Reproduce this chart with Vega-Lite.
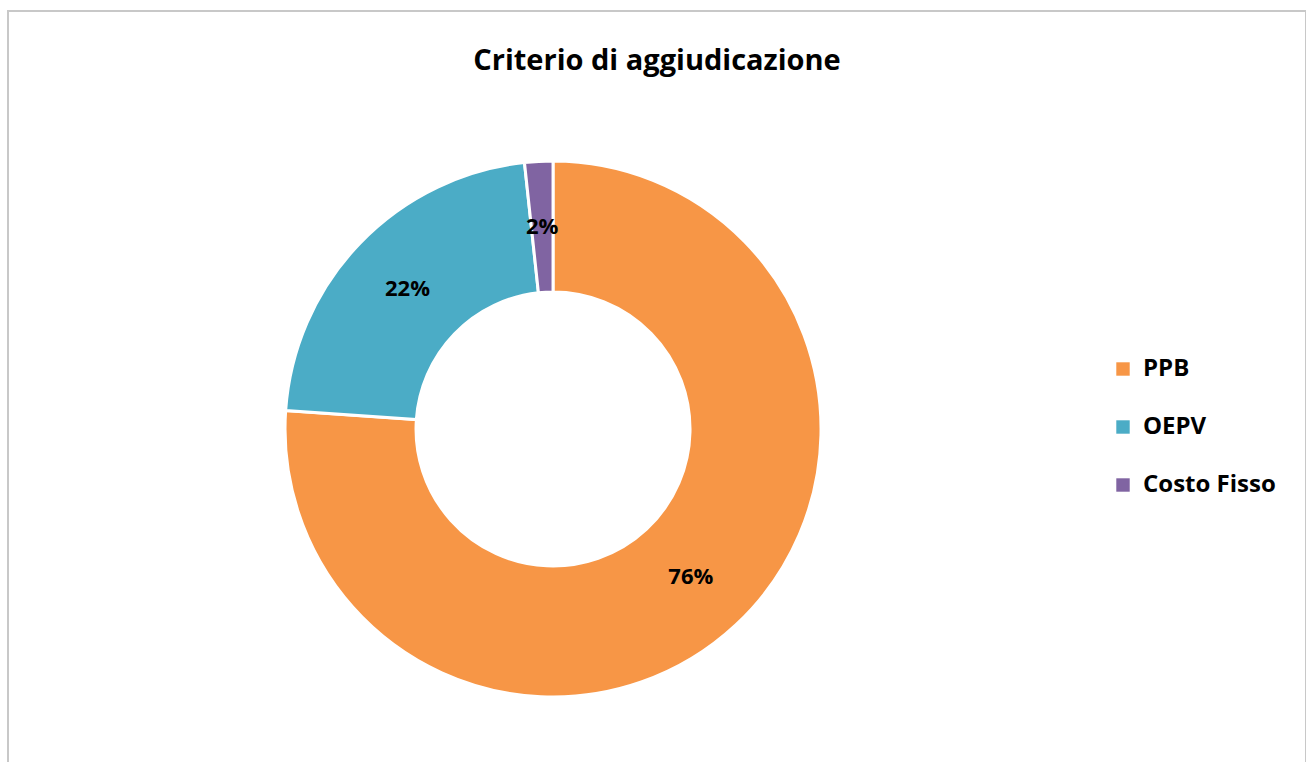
{
  "$schema": "https://vega.github.io/schema/vega-lite/v6.json",
  "width": 1298,
  "height": 800,
  "padding": {"left": 8, "top": 11, "right": 0, "bottom": 0},
  "autosize": {"type": "none"},
  "background": "white",
  "config": {
    "view": {"stroke": "#c8c8c8", "strokeWidth": 2},
    "font": "Open Sans"
  },
  "title": {
    "text": "Criterio di aggiudicazione",
    "fontSize": 29,
    "font": "Open Sans",
    "fontWeight": "bold",
    "color": "#000000",
    "anchor": "middle",
    "offset": -65
  },
  "data": {
    "values": [
      {"criterio": "PPB", "value": 76.1, "ord": 1, "label": "76%"},
      {"criterio": "OEPV", "value": 22.2, "ord": 2, "label": "22%"},
      {"criterio": "Costo Fisso", "value": 1.7, "ord": 3, "label": "2%"}
    ]
  },
  "encoding": {
    "theta": {"field": "value", "type": "quantitative", "stack": true},
    "order": {"field": "ord", "type": "quantitative"},
    "x": {"datum": 0.4199, "type": "quantitative", "scale": {"domain": [0, 1]}, "axis": null},
    "y": {"datum": 0.4775, "type": "quantitative", "scale": {"domain": [0, 1]}, "axis": null}
  },
  "layer": [
    {
      "mark": {"type": "arc", "innerRadius": 137, "outerRadius": 268, "stroke": "white", "strokeWidth": 3},
      "encoding": {
        "color": {
          "field": "criterio",
          "type": "nominal",
          "sort": ["PPB", "OEPV", "Costo Fisso"],
          "scale": {"domain": ["PPB", "OEPV", "Costo Fisso"], "range": ["#F79646", "#4BACC6", "#8064A2"]},
          "legend": {
            "title": null,
            "orient": "none",
            "legendX": 1103,
            "legendY": 346,
            "symbolType": "square",
            "symbolSize": 180,
            "symbolStrokeWidth": 0,
            "symbolOpacity": 1,
            "labelFontSize": 24,
            "labelFont": "Open Sans",
            "labelFontWeight": "bold",
            "labelColor": "#000000",
            "labelOffset": 8,
            "rowPadding": 34,
            "labelLimit": 300
          }
        }
      }
    },
    {
      "mark": {"type": "text", "radius": 202, "fontSize": 22, "fontWeight": "bold", "font": "Open Sans", "fill": "#000000"},
      "encoding": {"text": {"field": "label", "type": "nominal"}}
    }
  ]
}
